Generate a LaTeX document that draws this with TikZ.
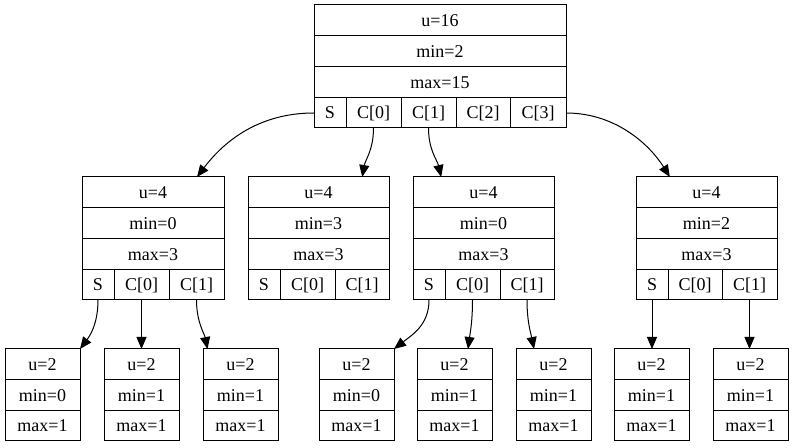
\documentclass[tikz,border=0pt]{standalone}
\usepackage{fontspec}
\setmainfont{Liberation Serif}
\usetikzlibrary{arrows.meta,calc}
\tikzset{
  cell/.style={draw=black, line width=0.75pt, inner sep=0pt, outer sep=0pt, font=\fontsize{13.5}{15}\selectfont, text=black},
  edge/.style={draw=black, line width=0.75pt, -{Triangle[length=9pt,width=7.5pt]}}
}
\newcommand\rc[6]{%
  \pgfmathsetmacro\ww{(#4-#2)*0.75}%
  \pgfmathsetmacro\hh{(#5-#3)*0.75}%
  \node[cell, minimum width=\ww pt, minimum height=\hh pt] (#1) at ({(#2+#4)/2},{(#3+#5)/2}) {#6};}
\begin{document}
\begin{tikzpicture}[x=0.75pt,y=-0.75pt]
\useasboundingbox[fill=white] (0,0) rectangle (793,448);
% top node
\rc{tU}{314}{5}{566}{36}{u=16}
\rc{tMin}{314}{36}{566}{67}{min=2}
\rc{tMax}{314}{67}{566}{98}{max=15}
\rc{tS}{314}{98}{346}{128}{S}
\rc{tC0}{346}{98}{401}{128}{C[0]}
\rc{tC1}{401}{98}{456}{128}{C[1]}
\rc{tC2}{456}{98}{510}{128}{C[2]}
\rc{tC3}{510}{98}{566}{128}{C[3]}
% level 2: A
\rc{aU}{82}{177}{224}{208}{u=4}
\rc{aMin}{82}{208}{224}{239}{min=0}
\rc{aMax}{82}{239}{224}{270}{max=3}
\rc{aS}{82}{270}{114}{300}{S}
\rc{aC0}{114}{270}{169}{300}{C[0]}
\rc{aC1}{169}{270}{224}{300}{C[1]}
% B
\rc{bU}{248}{177}{389}{208}{u=4}
\rc{bMin}{248}{208}{389}{239}{min=3}
\rc{bMax}{248}{239}{389}{270}{max=3}
\rc{bS}{248}{270}{280}{300}{S}
\rc{bC0}{280}{270}{335}{300}{C[0]}
\rc{bC1}{335}{270}{389}{300}{C[1]}
% C
\rc{cU}{413}{177}{554}{208}{u=4}
\rc{cMin}{413}{208}{554}{239}{min=0}
\rc{cMax}{413}{239}{554}{270}{max=3}
\rc{cS}{413}{270}{445}{300}{S}
\rc{cC0}{445}{270}{500}{300}{C[0]}
\rc{cC1}{500}{270}{554}{300}{C[1]}
% D
\rc{dU}{636}{177}{777}{208}{u=4}
\rc{dMin}{636}{208}{777}{239}{min=2}
\rc{dMax}{636}{239}{777}{270}{max=3}
\rc{dS}{636}{270}{668}{300}{S}
\rc{dC0}{668}{270}{722}{300}{C[0]}
\rc{dC1}{722}{270}{777}{300}{C[1]}
% leaves
\rc{l1U}{5}{349}{80}{380}{u=2}
\rc{l1Min}{5}{380}{80}{411}{min=0}
\rc{l1Max}{5}{411}{80}{441}{max=1}
\rc{l2U}{104}{349}{179}{380}{u=2}
\rc{l2Min}{104}{380}{179}{411}{min=1}
\rc{l2Max}{104}{411}{179}{441}{max=1}
\rc{l3U}{203}{349}{278}{380}{u=2}
\rc{l3Min}{203}{380}{278}{411}{min=1}
\rc{l3Max}{203}{411}{278}{441}{max=1}
\rc{l4U}{319}{349}{394}{380}{u=2}
\rc{l4Min}{319}{380}{394}{411}{min=0}
\rc{l4Max}{319}{411}{394}{441}{max=1}
\rc{l5U}{417}{349}{492}{380}{u=2}
\rc{l5Min}{417}{380}{492}{411}{min=1}
\rc{l5Max}{417}{411}{492}{441}{max=1}
\rc{l6U}{516}{349}{591}{380}{u=2}
\rc{l6Min}{516}{380}{591}{411}{min=1}
\rc{l6Max}{516}{411}{591}{441}{max=1}
\rc{l7U}{614}{349}{689}{380}{u=2}
\rc{l7Min}{614}{380}{689}{411}{min=1}
\rc{l7Max}{614}{411}{689}{441}{max=1}
\rc{l8U}{713}{349}{788}{380}{u=2}
\rc{l8Min}{713}{380}{788}{411}{min=1}
\rc{l8Max}{713}{411}{788}{441}{max=1}
% edges
\draw[edge] (tS.west) .. controls +(-54,0) and +(28,-37) .. ($(aU.north west)!0.81!(aU.north east)$);
\draw[edge] (tC3.east) .. controls +(50,0) and +(-20,-32) .. ($(dU.north west)!0.24!(dU.north east)$);
\draw[edge] (tC0.south) .. controls +(0,22) and +(3,-17) .. ($(bU.north west)!0.81!(bU.north east)$);
\draw[edge] (tC1.south) .. controls +(0,22) and +(-4,-17) .. ($(cU.north west)!0.2!(cU.north east)$);
\draw[edge] (aS.south) .. controls +(0,25) and +(9,-12) .. (l1U.north east);
\draw[edge] (aC0.south) -- (aC0.south |- l2U.north);
\draw[edge] (aC1.south) .. controls +(0,22) and +(-3,-15) .. ($(l3U.north west)!0.06!(l3U.north east)$);
\draw[edge] (cS.south) .. controls +(0,25) and +(18,-14) .. (l4U.north east);
\draw[edge] (cC0.south) .. controls +(0,22) and +(2,-15) .. ($(l5U.north west)!0.68!(l5U.north east)$);
\draw[edge] (cC1.south) .. controls +(0,22) and +(-3,-15) .. ($(l6U.north west)!0.24!(l6U.north east)$);
\draw[edge] (dS.south) -- (dS.south |- l7U.north);
\draw[edge] (dC1.south) -- (dC1.south |- l8U.north);
\end{tikzpicture}
\end{document}
